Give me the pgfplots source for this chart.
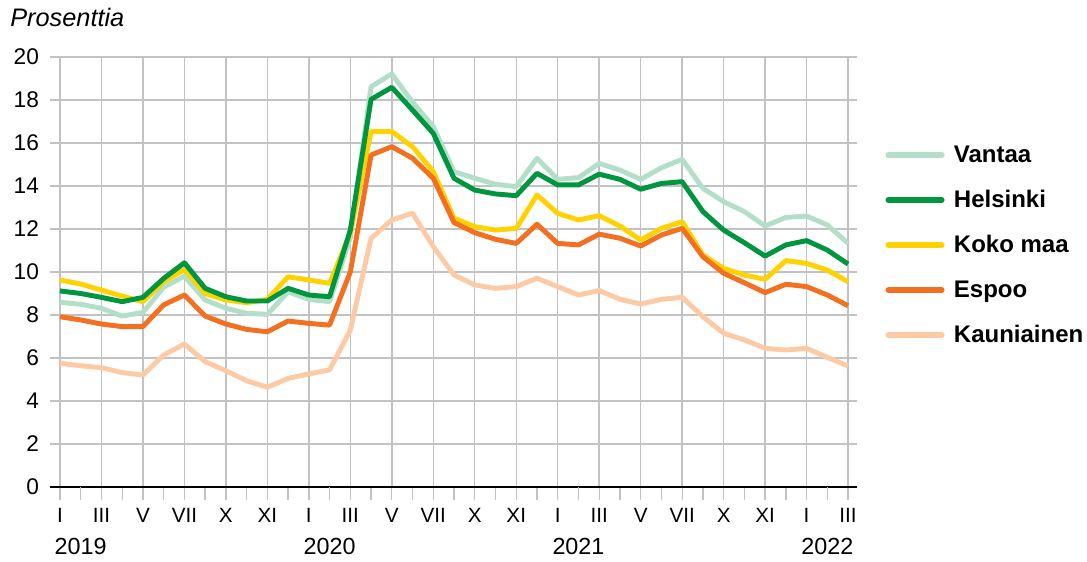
\documentclass[border=0pt]{standalone}
\usepackage{fontspec}
\setmainfont{Liberation Sans}
\usepackage{pgfplots}
\pgfplotsset{compat=1.18}
\definecolor{cVan}{HTML}{B3DFC9}
\definecolor{cHel}{HTML}{009640}
\definecolor{cKok}{HTML}{FFD200}
\definecolor{cEsp}{HTML}{F37021}
\definecolor{cKau}{HTML}{FDCAA6}
\definecolor{gridgray}{HTML}{C2C2C4}
\begin{document}
\begin{tikzpicture}
\begin{axis}[
 scale only axis, width=605.25pt, height=322.5pt,
 xmin=-0.48, xmax=38.43, ymin=0, ymax=20,
 axis x line=bottom, axis y line=left,
 x axis line style={-, black, line width=1.9pt},
 y axis line style={draw=none},
 /pgf/number format/assume math mode=true,
 xtick={0,2,...,38},
 xticklabels={I,III,V,VII,X,XI,I,III,V,VII,X,XI,I,III,V,VII,X,XI,I,III},
 minor xtick={1,3,...,37},
 ytick={0,2,...,20},
 tick align=outside,
 major tick length=9.75pt, minor tick length=9.75pt,
 xtick style={draw=gridgray, line width=1pt},
 minor tick style={draw=gridgray, line width=1pt},
 ytick style={draw=none},
 xmajorgrids, ymajorgrids,
 major grid style={gridgray, line width=1.1pt},
 xticklabel style={font=\fontsize{15.5}{17}\selectfont, yshift=-3pt},
 yticklabel style={font=\fontsize{17}{19}\selectfont, xshift=5pt},
 extra x ticks={1,13,25,37},
 extra x tick labels={2019,2020,2021,2022},
 extra x tick style={grid=none, xticklabel style={yshift=-22pt, font=\fontsize{17.5}{20}\selectfont}},
 legend style={at={(1.035,0.80)}, anchor=north west, draw=none, fill=none,
   font=\bfseries\fontsize{18}{21}\selectfont, row sep=15.4pt, inner sep=0pt,
   /tikz/every odd column/.append style={column sep=5pt}},
 legend cell align=left,
 legend image code/.code={\draw[#1, line cap=round] (0pt,0pt) -- (40pt,0pt);},
]
\addlegendimage{cVan, line width=4.3pt}
\addlegendentry{Vantaa}
\addlegendimage{cHel, line width=4.3pt}
\addlegendentry{Helsinki}
\addlegendimage{cKok, line width=4.3pt}
\addlegendentry{Koko maa}
\addlegendimage{cEsp, line width=4.3pt}
\addlegendentry{Espoo}
\addlegendimage{cKau, line width=4.3pt}
\addlegendentry{Kauniainen}

% Kauniainen
\addplot[forget plot, cKau, line width=3.7pt, line join=round] coordinates {
(0,5.75)(1,5.64)(2,5.55)(3,5.32)(4,5.21)(5,6.14)(6,6.65)(7,5.83)(8,5.41)(9,4.94)
(10,4.64)(11,5.05)(12,5.26)(13,5.45)(14,7.3)(15,11.57)(16,12.42)(17,12.73)(18,11.18)(19,9.86)
(20,9.4)(21,9.24)(22,9.32)(23,9.71)(24,9.32)(25,8.93)(26,9.14)(27,8.73)(28,8.51)(29,8.73)
(30,8.82)(31,7.92)(32,7.15)(33,6.84)(34,6.45)(35,6.37)(36,6.45)(37,6.03)(38,5.63)};
% Vantaa
\addplot[forget plot, cVan, line width=3.7pt, line join=round] coordinates {
(0,8.59)(1,8.5)(2,8.31)(3,7.95)(4,8.12)(5,9.29)(6,9.81)(7,8.7)(8,8.31)(9,8.08)
(10,8.03)(11,9.08)(12,8.73)(13,8.62)(14,11.6)(15,18.62)(16,19.21)(17,17.9)(18,16.76)(19,14.67)
(20,14.36)(21,14.08)(22,13.97)(23,15.29)(24,14.31)(25,14.39)(26,15.05)(27,14.74)(28,14.31)(29,14.85)
(30,15.24)(31,13.89)(32,13.27)(33,12.81)(34,12.14)(35,12.54)(36,12.6)(37,12.19)(38,11.33)};
% Koko maa
\addplot[forget plot, cKok, line width=3.7pt, line join=round] coordinates {
(0,9.63)(1,9.44)(2,9.16)(3,8.88)(4,8.62)(5,9.55)(6,10.12)(7,9.0)(8,8.7)(9,8.57)
(10,8.73)(11,9.78)(12,9.63)(13,9.47)(14,11.8)(15,16.53)(16,16.53)(17,15.83)(18,14.67)(19,12.5)
(20,12.11)(21,11.95)(22,12.03)(23,13.58)(24,12.73)(25,12.42)(26,12.62)(27,12.14)(28,11.49)(29,12.03)
(30,12.34)(31,10.79)(32,10.17)(33,9.86)(34,9.66)(35,10.53)(36,10.4)(37,10.09)(38,9.55)};
% Espoo
\addplot[forget plot, cEsp, line width=3.7pt, line join=round] coordinates {
(0,7.92)(1,7.77)(2,7.58)(3,7.46)(4,7.46)(5,8.47)(6,8.93)(7,7.95)(8,7.58)(9,7.33)
(10,7.22)(11,7.72)(12,7.61)(13,7.53)(14,10.0)(15,15.44)(16,15.83)(17,15.29)(18,14.36)(19,12.3)
(20,11.83)(21,11.52)(22,11.33)(23,12.22)(24,11.33)(25,11.26)(26,11.76)(27,11.57)(28,11.21)(29,11.72)
(30,12.03)(31,10.71)(32,9.94)(33,9.5)(34,9.04)(35,9.43)(36,9.32)(37,8.93)(38,8.43)};
% Helsinki
\addplot[forget plot, cHel, line width=3.7pt, line join=round] coordinates {
(0,9.12)(1,9.0)(2,8.82)(3,8.62)(4,8.82)(5,9.7)(6,10.43)(7,9.24)(8,8.85)(9,8.65)
(10,8.65)(11,9.24)(12,8.93)(13,8.85)(14,11.95)(15,18.03)(16,18.59)(17,17.53)(18,16.45)(19,14.36)
(20,13.81)(21,13.63)(22,13.55)(23,14.59)(24,14.05)(25,14.05)(26,14.55)(27,14.31)(28,13.85)(29,14.12)
(30,14.2)(31,12.81)(32,11.95)(33,11.36)(34,10.74)(35,11.26)(36,11.46)(37,11.02)(38,10.37)};
\end{axis}
\node[anchor=base west, inner sep=0pt, font=\itshape\fontsize{19}{21}\selectfont] at (-30pt,345pt) {Prosenttia};
\pgfresetboundingbox
\path[use as bounding box] (-37.5pt,-55.5pt) rectangle (777.75pt,365.25pt);
\end{tikzpicture}
\end{document}
